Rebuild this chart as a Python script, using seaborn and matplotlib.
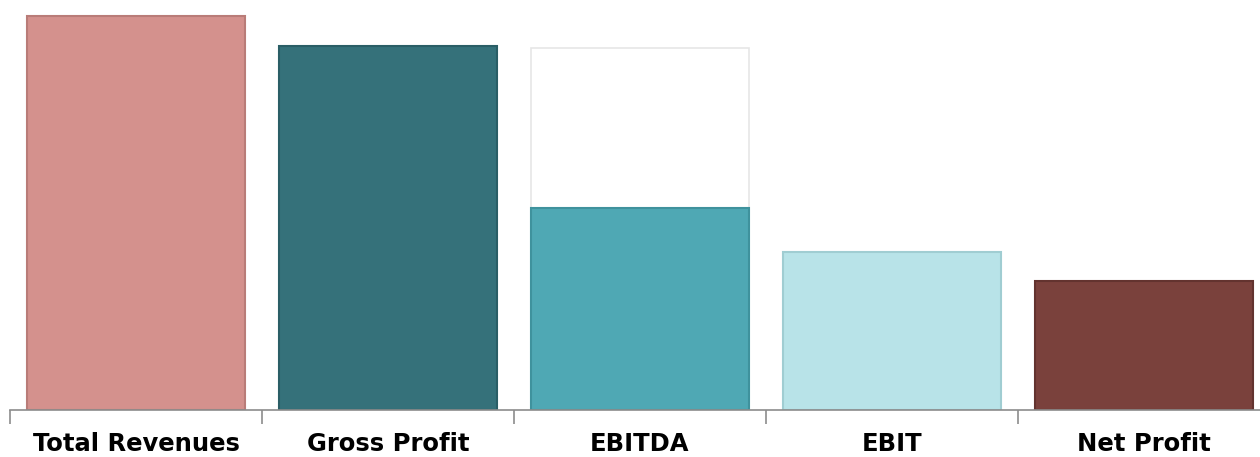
import matplotlib
matplotlib.use("Agg")
import matplotlib.pyplot as plt
import seaborn as sns
import pandas as pd
from matplotlib.ticker import FixedLocator

categories = ["Total Revenues", "Gross Profit", "EBITDA", "EBIT", "Net Profit"]
values = [394, 364, 202, 158, 129]
# invisible "gap" box drawn behind EBITDA (waterfall reference up to gross profit)
gap_values = [0, 0, 362, 0, 0]
colors = ["#D4918D", "#35717A", "#4FA8B4", "#B8E3E8", "#7A413C"]
edge_colors = ["#B97C78", "#2A5E66", "#3F929D", "#A0CDD2", "#63332F"]

sns.set_theme(style="white")
plt.rcParams['font.family'] = ['DejaVu Sans']

fig = plt.figure(figsize=(12.6, 4.57), dpi=100)
ax = fig.add_axes([10/1260, 47/457, 1260/1260, 410/457])

df = pd.DataFrame({"cat": categories, "val": values, "gap": gap_values})

sns.barplot(data=df, x="cat", y="gap", color="white", width=0.865, saturation=1,
            edgecolor="#E6E6E6", linewidth=1.2, ax=ax, zorder=1)
sns.barplot(data=df, x="cat", y="val", hue="cat", palette=colors, width=0.865,
            saturation=1, legend=False, ax=ax, zorder=2)

n = len(categories)
for i, p in enumerate(ax.patches[n:]):
    p.set_edgecolor(edge_colors[i])
    p.set_linewidth(1.5)
for p in ax.patches[:n]:
    if p.get_height() == 0:
        p.set_visible(False)

ax.set_ylim(0, 410)
ax.set_xlim(-0.5, n - 0.5)
ax.set_xlabel("")
ax.set_ylabel("")
ax.set_yticks([])

for s in ["top", "right", "left"]:
    ax.spines[s].set_visible(False)
ax.spines["bottom"].set_color("#8C8C8C")
ax.spines["bottom"].set_linewidth(1.2)

ax.xaxis.set_minor_locator(FixedLocator([i - 0.5 for i in range(n + 1)]))
ax.tick_params(axis="x", which="minor", length=10, width=1.2, color="#8C8C8C", bottom=True)
ax.tick_params(axis="x", which="major", length=0, pad=15.5)
for lbl in ax.get_xticklabels():
    lbl.set_fontweight("bold")
    lbl.set_fontsize(17.5)
    lbl.set_color("black")

fig.savefig("out.png", dpi=100, facecolor="white")
